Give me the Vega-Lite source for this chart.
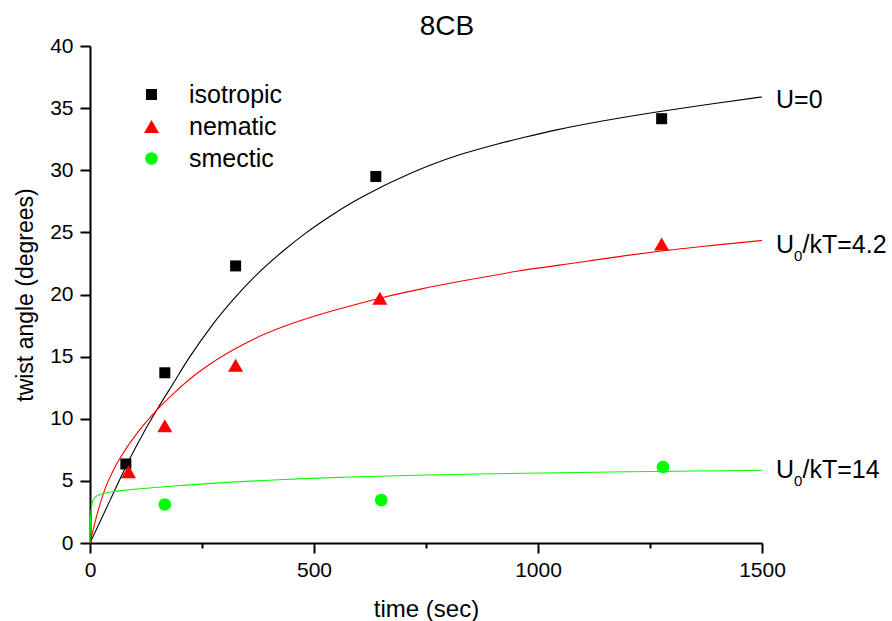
{
  "$schema": "https://vega.github.io/schema/vega-lite/v6.json",
  "width": 672,
  "height": 497,
  "autosize": {"type": "none"},
  "padding": {"left": 90, "top": 46, "right": 130, "bottom": 78},
  "background": "white",
  "config": {"font": "Liberation Sans", "view": {"stroke": null}},
  "title": {"text": "8CB", "fontSize": 28, "fontWeight": "normal", "color": "black", "dx": 21, "dy": 10},
  "datasets": {
    "fits": [
      {"series": "isotropic", "t": 0, "angle": 0},
      {"series": "isotropic", "t": 45, "angle": 3.45},
      {"series": "isotropic", "t": 89, "angle": 6.8},
      {"series": "isotropic", "t": 120, "angle": 8.9},
      {"series": "isotropic", "t": 149, "angle": 10.7},
      {"series": "isotropic", "t": 185, "angle": 12.8},
      {"series": "isotropic", "t": 223, "angle": 15.0},
      {"series": "isotropic", "t": 270, "angle": 17.4},
      {"series": "isotropic", "t": 320, "angle": 19.6},
      {"series": "isotropic", "t": 375, "angle": 21.7},
      {"series": "isotropic", "t": 431, "angle": 23.5},
      {"series": "isotropic", "t": 480, "angle": 24.9},
      {"series": "isotropic", "t": 536, "angle": 26.3},
      {"series": "isotropic", "t": 590, "angle": 27.5},
      {"series": "isotropic", "t": 647, "angle": 28.6},
      {"series": "isotropic", "t": 700, "angle": 29.5},
      {"series": "isotropic", "t": 759, "angle": 30.4},
      {"series": "isotropic", "t": 830, "angle": 31.3},
      {"series": "isotropic", "t": 908, "angle": 32.1},
      {"series": "isotropic", "t": 970, "angle": 32.65},
      {"series": "isotropic", "t": 1042, "angle": 33.25},
      {"series": "isotropic", "t": 1150, "angle": 34.0},
      {"series": "isotropic", "t": 1276, "angle": 34.75},
      {"series": "isotropic", "t": 1390, "angle": 35.35},
      {"series": "isotropic", "t": 1500, "angle": 35.9},
      {"series": "nematic", "t": 0, "angle": 0},
      {"series": "nematic", "t": 10, "angle": 1.5},
      {"series": "nematic", "t": 20, "angle": 2.85},
      {"series": "nematic", "t": 33, "angle": 4.3},
      {"series": "nematic", "t": 50, "angle": 5.7},
      {"series": "nematic", "t": 70, "angle": 7.0},
      {"series": "nematic", "t": 100, "angle": 8.6},
      {"series": "nematic", "t": 149, "angle": 10.7},
      {"series": "nematic", "t": 190, "angle": 12.15},
      {"series": "nematic", "t": 223, "angle": 13.2},
      {"series": "nematic", "t": 270, "angle": 14.45},
      {"series": "nematic", "t": 320, "angle": 15.55},
      {"series": "nematic", "t": 380, "angle": 16.65},
      {"series": "nematic", "t": 446, "angle": 17.6},
      {"series": "nematic", "t": 500, "angle": 18.25},
      {"series": "nematic", "t": 558, "angle": 18.85},
      {"series": "nematic", "t": 647, "angle": 19.7},
      {"series": "nematic", "t": 740, "angle": 20.45},
      {"series": "nematic", "t": 833, "angle": 21.1},
      {"series": "nematic", "t": 950, "angle": 21.85},
      {"series": "nematic", "t": 1094, "angle": 22.6},
      {"series": "nematic", "t": 1200, "angle": 23.15},
      {"series": "nematic", "t": 1276, "angle": 23.5},
      {"series": "nematic", "t": 1390, "angle": 23.95},
      {"series": "nematic", "t": 1500, "angle": 24.35},
      {"series": "smectic", "t": 0, "angle": 0},
      {"series": "smectic", "t": 1, "angle": 1.6},
      {"series": "smectic", "t": 2, "angle": 2.4},
      {"series": "smectic", "t": 4, "angle": 3.0},
      {"series": "smectic", "t": 7, "angle": 3.45},
      {"series": "smectic", "t": 12, "angle": 3.7},
      {"series": "smectic", "t": 20, "angle": 3.87},
      {"series": "smectic", "t": 30, "angle": 3.98},
      {"series": "smectic", "t": 50, "angle": 4.12},
      {"series": "smectic", "t": 82, "angle": 4.27},
      {"series": "smectic", "t": 120, "angle": 4.4},
      {"series": "smectic", "t": 167, "angle": 4.53},
      {"series": "smectic", "t": 230, "angle": 4.7},
      {"series": "smectic", "t": 305, "angle": 4.88},
      {"series": "smectic", "t": 400, "angle": 5.05},
      {"series": "smectic", "t": 491, "angle": 5.2},
      {"series": "smectic", "t": 600, "angle": 5.33},
      {"series": "smectic", "t": 750, "angle": 5.47},
      {"series": "smectic", "t": 900, "angle": 5.57},
      {"series": "smectic", "t": 1050, "angle": 5.66},
      {"series": "smectic", "t": 1200, "angle": 5.73},
      {"series": "smectic", "t": 1350, "angle": 5.79},
      {"series": "smectic", "t": 1500, "angle": 5.85}
    ],
    "points": [
      {"series": "isotropic", "t": 80, "angle": 6.36},
      {"series": "isotropic", "t": 167, "angle": 13.7},
      {"series": "isotropic", "t": 325, "angle": 22.3},
      {"series": "isotropic", "t": 638, "angle": 29.5},
      {"series": "isotropic", "t": 1276, "angle": 34.15},
      {"series": "nematic", "t": 86, "angle": 5.74},
      {"series": "nematic", "t": 167, "angle": 9.44},
      {"series": "nematic", "t": 325, "angle": 14.3},
      {"series": "nematic", "t": 647, "angle": 19.7},
      {"series": "nematic", "t": 1276, "angle": 24.06},
      {"series": "smectic", "t": 167, "angle": 3.1},
      {"series": "smectic", "t": 650, "angle": 3.46},
      {"series": "smectic", "t": 1279, "angle": 6.12}
    ],
    "labels": [
      {"t": 1500, "angle": 35.0, "pre": "U=0", "sub": "", "post": ""},
      {"t": 1500, "angle": 23.34, "pre": "U", "sub": "0", "post": "/kT=4.2"},
      {"t": 1500, "angle": 5.23, "pre": "U", "sub": "0", "post": "/kT=14"}
    ]
  },
  "layer": [
    {
      "data": {"name": "fits"},
      "transform": [{"filter": "datum.series === 'isotropic'"}],
      "mark": {"type": "line", "interpolate": "monotone", "strokeWidth": 1.1, "color": "#000000"},
      "encoding": {
        "x": {"field": "t", "type": "quantitative", "scale": {"domain": [0, 1500], "nice": false},
          "axis": {"orient": "bottom", "values": [0, 250, 500, 750, 1000, 1250, 1500], "labelExpr": "datum.value % 500 === 0 ? datum.label : ''", "format": "d", "labelFontSize": 21, "labelColor": "black", "labelFont": "Liberation Sans", "labelPadding": 6, "labelFlush": false,
            "tickSize": {"condition": {"test": "datum.value % 500 === 0", "value": 10}, "value": 5}, "tickWidth": 2, "tickColor": "black", "domainColor": "black", "domainWidth": 2, "grid": false,
            "title": "time (sec)", "titleFont": "Liberation Sans", "titleFontSize": 24, "titleFontWeight": "normal", "titleColor": "black", "titleY": 73, "titleBaseline": "alphabetic"}},
        "y": {"field": "angle", "type": "quantitative", "scale": {"domain": [0, 40], "nice": false},
          "axis": {"orient": "left", "values": [0, 2.5, 5, 7.5, 10, 12.5, 15, 17.5, 20, 22.5, 25, 27.5, 30, 32.5, 35, 37.5, 40], "labelExpr": "datum.value % 5 === 0 ? datum.label : ''", "format": "d", "labelFontSize": 21, "labelColor": "black", "labelFont": "Liberation Sans", "labelPadding": 7, "labelFlush": false,
            "tickSize": {"condition": {"test": "datum.value % 5 === 0", "value": 10}, "value": 5}, "tickWidth": 2, "tickColor": "black", "domainColor": "black", "domainWidth": 2, "grid": false,
            "title": "twist angle (degrees)", "titleFont": "Liberation Sans", "titleFontSize": 23, "titleFontWeight": "normal", "titleColor": "black", "titleX": -58, "titleBaseline": "alphabetic"}}
      }
    },
    {
      "data": {"name": "fits"},
      "transform": [{"filter": "datum.series === 'nematic'"}],
      "mark": {"type": "line", "interpolate": "monotone", "strokeWidth": 1.1, "color": "#ff0000"},
      "encoding": {
        "x": {"field": "t", "type": "quantitative"},
        "y": {"field": "angle", "type": "quantitative"}
      }
    },
    {
      "data": {"name": "fits"},
      "transform": [{"filter": "datum.series === 'smectic'"}],
      "mark": {"type": "line", "interpolate": "monotone", "strokeWidth": 1.1, "color": "#00ff00"},
      "encoding": {
        "x": {"field": "t", "type": "quantitative"},
        "y": {"field": "angle", "type": "quantitative"}
      }
    },
    {
      "data": {"name": "points"},
      "mark": {"type": "point", "filled": true, "opacity": 1, "size": 121},
      "encoding": {
        "x": {"field": "t", "type": "quantitative"},
        "y": {"field": "angle", "type": "quantitative"},
        "color": {"field": "series", "type": "nominal", "scale": {"domain": ["isotropic", "nematic", "smectic"], "range": ["#000000", "#ff0000", "#00ff00"]},
          "legend": {"orient": "top-left", "offset": 36, "title": null, "labelFontSize": 25, "labelFont": "Liberation Sans", "labelColor": "black", "rowPadding": 6, "labelOffset": 25, "symbolOffset": 13, "symbolSize": 121, "symbolOpacity": 1}},
        "shape": {"field": "series", "type": "nominal", "scale": {"domain": ["isotropic", "nematic", "smectic"], "range": ["M-1,-1H1V1H-1Z", "M0,-1.18L1.364,1.18L-1.364,1.18Z", "M1.15,0A1.15,1.15,0,1,1,-1.15,0A1.15,1.15,0,1,1,1.15,0Z"]}}
      }
    },
    {
      "data": {"name": "labels"},
      "mark": {"type": "text", "align": "left", "baseline": "alphabetic", "dx": 14, "fontSize": 25, "font": "Liberation Sans", "color": "black"},
      "encoding": {
        "x": {"field": "t", "type": "quantitative"},
        "y": {"field": "angle", "type": "quantitative"},
        "text": {"field": "pre"}
      }
    },
    {
      "data": {"name": "labels"},
      "mark": {"type": "text", "align": "left", "baseline": "alphabetic", "dx": 32, "dy": 8, "fontSize": 15, "font": "Liberation Sans", "color": "black"},
      "encoding": {
        "x": {"field": "t", "type": "quantitative"},
        "y": {"field": "angle", "type": "quantitative"},
        "text": {"field": "sub"}
      }
    },
    {
      "data": {"name": "labels"},
      "mark": {"type": "text", "align": "left", "baseline": "alphabetic", "dx": 40.5, "fontSize": 25, "font": "Liberation Sans", "color": "black"},
      "encoding": {
        "x": {"field": "t", "type": "quantitative"},
        "y": {"field": "angle", "type": "quantitative"},
        "text": {"field": "post"}
      }
    }
  ]
}
